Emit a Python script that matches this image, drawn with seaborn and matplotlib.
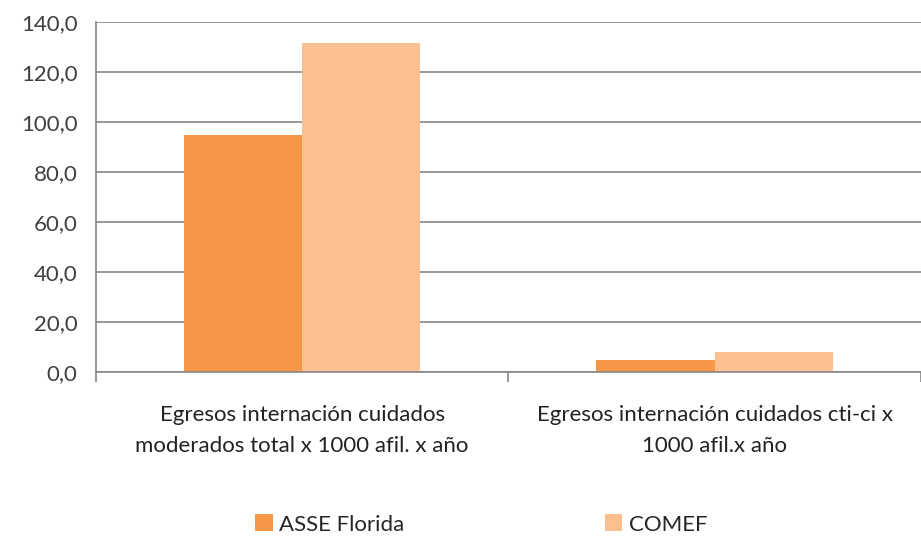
import pandas as pd
import matplotlib.pyplot as plt
import seaborn as sns
from matplotlib.ticker import FixedLocator, FuncFormatter

# DATA
categories = [
    "Egresos internación cuidados\nmoderados total x 1000 afil. x año",
    "Egresos internación cuidados cti-ci x\n1000 afil.x año",
]
series = ["ASSE Florida", "COMEF"]
asse_values = [94.8, 4.9]
comef_values = [131.6, 8.1]
colors = ["#F79646", "#FAC090"]

df = pd.DataFrame({
    "categoria": categories * 2,
    "serie": [series[0]] * 2 + [series[1]] * 2,
    "valor": asse_values + comef_values,
})

sns.set_theme(style="white")
plt.rcParams["font.family"] = ["Lato", "DejaVu Sans"]

fig = plt.figure(figsize=(9.21, 5.37), dpi=100)
ax = fig.add_axes([0.104, 0.307, 0.896, 0.652])

sns.barplot(data=df, x="categoria", y="valor", hue="serie", order=categories,
            hue_order=series, palette=colors, width=0.573, saturation=1,
            edgecolor="none", ax=ax)

ax.set_xlim(-0.5, 1.5)
ax.set_ylim(0, 140)
ax.set_yticks(range(0, 141, 20))
ax.yaxis.set_major_formatter(FuncFormatter(lambda v, p: f"{v:.1f}".replace(".", ",")))
ax.grid(axis="y", color="#868686", linewidth=1.2)
ax.set_axisbelow(True)

for s in ["top", "right"]:
    ax.spines[s].set_visible(False)
for s in ["left", "bottom"]:
    ax.spines[s].set_color("#868686")
    ax.spines[s].set_linewidth(1.2)

ax.tick_params(axis="y", which="major", length=7, color="#868686", width=1.2,
               labelsize=16, labelcolor="#404040", pad=6)
ax.tick_params(axis="x", which="major", length=0, labelsize=16,
               labelcolor="#222222", pad=24)
ax.xaxis.set_minor_locator(FixedLocator([-0.5, 0.5, 1.5]))
ax.tick_params(axis="x", which="minor", length=7, color="#868686", width=1.2,
               direction="out", bottom=True)
for lbl in ax.get_xticklabels():
    lbl.set_linespacing(1.65)

ax.set_xlabel("")
ax.set_ylabel("")

ax.legend(loc="center", bbox_to_anchor=(0.467, -0.435), ncol=2, frameon=False,
          fontsize=16, columnspacing=9.0, handlelength=0.8, handleheight=0.8,
          handletextpad=0.3)

fig.savefig("out.png", dpi=100, facecolor="white")
